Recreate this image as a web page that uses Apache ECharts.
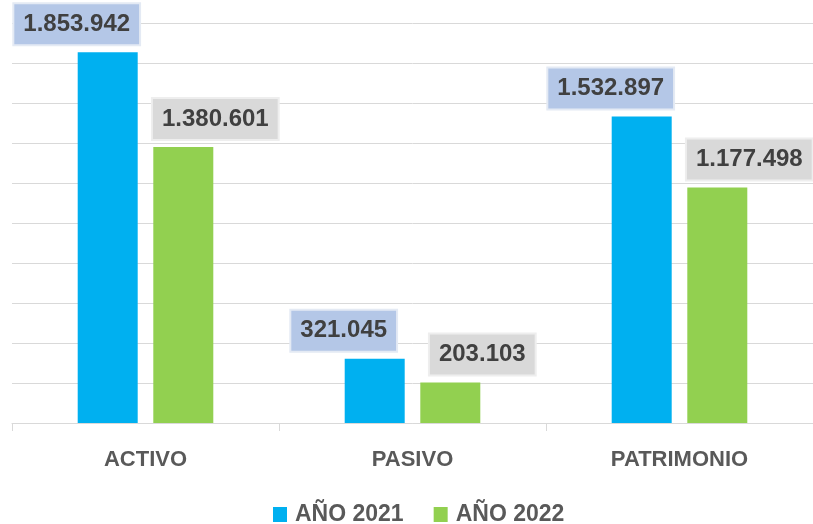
<!DOCTYPE html>
<html>
<head>
<meta charset="utf-8">
<script src="https://cdn.jsdelivr.net/npm/echarts@6/dist/echarts.min.js"></script>
<style>
  html, body { margin: 0; padding: 0; background: #fff; }
  #main { width: 813px; height: 524px; }
</style>
</head>
<body>
<div id="main"></div>
<script>
const categories = ['ACTIVO', 'PASIVO', 'PATRIMONIO'];
const values2021 = [1853942, 321045, 1532897];
const values2022 = [1380601, 203103, 1177498];
const seriesNames = ['AÑO 2021', 'AÑO 2022'];

function fmt(v) {
    return String(v).replace(/\B(?=(\d{3})+(?!\d))/g, '.');
}

const labelBase = {
    show: true,
    position: 'top',
    distance: 8,
    fontFamily: 'Liberation Sans',
    fontSize: 24,
    fontWeight: 'bold',
    color: '#404040',
    padding: [8, 9, 8, 9],
    formatter: p => fmt(p.value)
};

const myChart = echarts.init(document.getElementById('main'));
myChart.setOption({
    animation: false,
    grid: { left: 12, right: 0, top: 23, bottom: 101 },
    legend: {
        top: 498,
        left: 268,
        itemWidth: 14,
        itemHeight: 15,
        itemGap: 30,
        icon: 'rect',
        textStyle: {
            fontFamily: 'Liberation Sans',
            fontSize: 23,
            fontWeight: 'bold',
            color: '#595959',
            padding: [0, 0, 0, 3]
        },
        data: seriesNames
    },
    xAxis: {
        type: 'category',
        data: categories,
        axisLine: { lineStyle: { color: '#d9d9d9' } },
        axisTick: { show: true, length: 8, lineStyle: { color: '#d9d9d9' } },
        axisLabel: {
            margin: 26,
            fontFamily: 'Liberation Sans',
            fontSize: 22,
            fontWeight: 'bold',
            color: '#595959'
        }
    },
    yAxis: {
        type: 'value',
        min: 0,
        max: 2000000,
        interval: 200000,
        axisLabel: { show: false },
        axisLine: { show: false },
        axisTick: { show: false },
        splitLine: { lineStyle: { color: '#d9d9d9' } }
    },
    series: [
        {
            name: seriesNames[0],
            type: 'bar',
            data: values2021,
            barWidth: 60,
            barGap: '26%',
            itemStyle: { color: '#00b0f0' },
            label: Object.assign({}, labelBase, {
                offset: [-31, 0],
                backgroundColor: '#b4c7e7',
                borderColor: '#e4eaf4',
                borderWidth: 2
            })
        },
        {
            name: seriesNames[1],
            type: 'bar',
            data: values2022,
            barWidth: 60,
            itemStyle: { color: '#92d050' },
            label: Object.assign({}, labelBase, {
                offset: [32, 0],
                backgroundColor: '#d9d9d9',
                borderColor: '#eeeeee',
                borderWidth: 2
            })
        }
    ]
});
</script>
</body>
</html>
